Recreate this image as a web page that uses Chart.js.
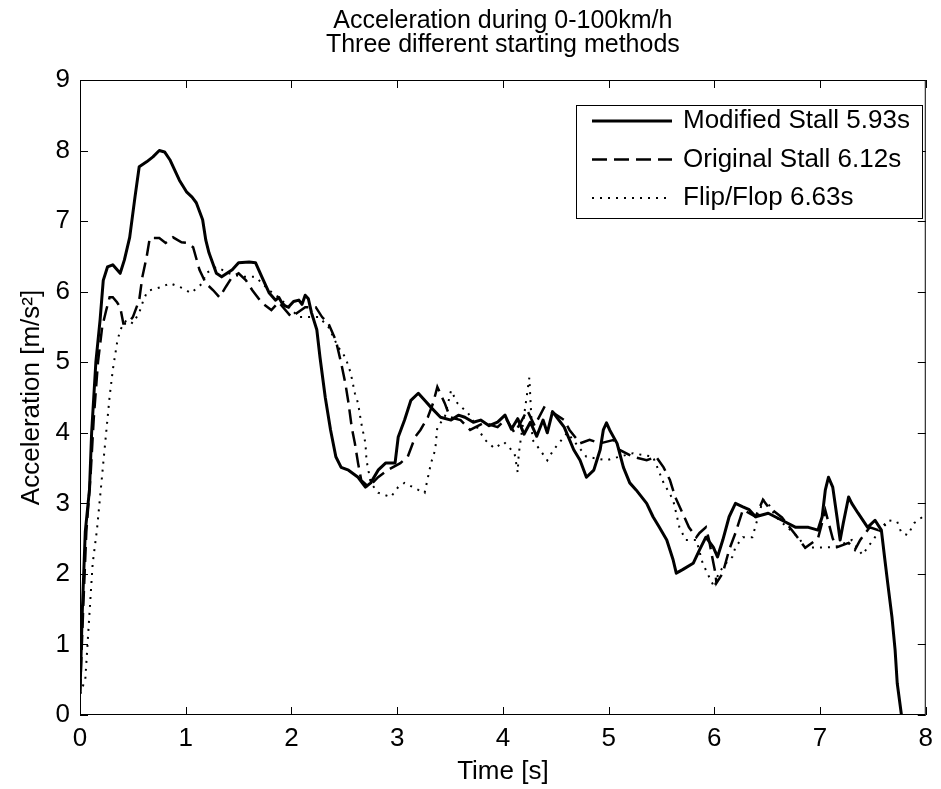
<!DOCTYPE html>
<html><head><meta charset="utf-8">
<script src="https://cdn.jsdelivr.net/npm/chart.js@4.4.0/dist/chart.umd.min.js"></script>
<style>html,body{margin:0;padding:0;background:#fff;}#wrap{width:941px;height:789px;}</style>
</head><body><div id="wrap"><canvas id="c" width="941" height="789"></canvas></div>
<script>
const titleLines = ['Acceleration during 0-100km/h', 'Three different starting methods'];
const xAxisTitle = 'Time [s]';
const yAxisTitle = 'Acceleration [m/s\u00B2]';
const seriesLabels = ['Modified Stall 5.93s', 'Original Stall 6.12s', 'Flip/Flop 6.63s'];
const xTickValues = [0, 1, 2, 3, 4, 5, 6, 7, 8];
const yTickValues = [0, 1, 2, 3, 4, 5, 6, 7, 8, 9];

const tModified = [0.00,0.02,0.05,0.09,0.11,0.15,0.19,0.22,0.26,0.31,0.38,0.42,0.47,0.52,0.56,0.63,0.69,0.75,0.80,0.85,0.94,1.01,1.06,1.10,1.16,1.19,1.22,1.29,1.34,1.44,1.50,1.60,1.66,1.72,1.79,1.85,1.88,1.91,1.94,1.97,2.02,2.07,2.10,2.13,2.16,2.19,2.24,2.27,2.32,2.37,2.42,2.47,2.54,2.63,2.70,2.75,2.82,2.89,2.98,3.01,3.07,3.13,3.20,3.26,3.32,3.41,3.51,3.58,3.64,3.72,3.79,3.87,3.95,4.02,4.08,4.14,4.20,4.26,4.32,4.38,4.42,4.47,4.51,4.58,4.67,4.73,4.79,4.86,4.92,4.95,4.98,5.01,5.08,5.14,5.20,5.26,5.36,5.42,5.48,5.55,5.61,5.64,5.70,5.80,5.86,5.92,5.99,6.03,6.08,6.14,6.20,6.27,6.33,6.39,6.51,6.64,6.77,6.89,6.98,7.02,7.05,7.08,7.12,7.16,7.19,7.22,7.27,7.30,7.36,7.45,7.52,7.58,7.61,7.64,7.68,7.71,7.73,7.77];
const aModified = [0.30,1.40,2.60,3.20,4.00,5.00,5.60,6.16,6.35,6.38,6.26,6.45,6.77,7.34,7.77,7.84,7.91,8.00,7.98,7.87,7.58,7.41,7.34,7.26,7.02,6.73,6.55,6.26,6.21,6.31,6.41,6.42,6.41,6.21,5.98,5.88,5.92,5.84,5.80,5.78,5.86,5.88,5.82,5.95,5.90,5.70,5.46,5.07,4.50,4.04,3.66,3.51,3.47,3.37,3.23,3.29,3.47,3.57,3.57,3.94,4.18,4.46,4.56,4.46,4.36,4.22,4.18,4.25,4.22,4.15,4.18,4.10,4.15,4.25,4.05,4.20,3.98,4.15,3.95,4.18,4.00,4.30,4.22,4.08,3.76,3.61,3.37,3.47,3.76,4.04,4.14,4.04,3.85,3.51,3.29,3.19,3.00,2.81,2.66,2.48,2.20,2.01,2.06,2.15,2.34,2.52,2.38,2.24,2.48,2.81,3.00,2.95,2.91,2.81,2.86,2.76,2.66,2.66,2.62,2.81,3.19,3.37,3.23,2.81,2.48,2.72,3.09,3.00,2.86,2.66,2.76,2.62,2.24,1.87,1.39,0.92,0.45,0.00];

const tOriginal = [0.00,0.03,0.06,0.10,0.13,0.17,0.21,0.25,0.28,0.31,0.35,0.38,0.41,0.45,0.50,0.56,0.59,0.63,0.66,0.75,0.81,0.88,0.96,1.02,1.07,1.13,1.19,1.26,1.32,1.38,1.44,1.50,1.57,1.63,1.72,1.81,1.88,2.00,2.13,2.23,2.29,2.35,2.42,2.47,2.51,2.54,2.57,2.60,2.63,2.66,2.73,2.82,2.91,3.03,3.10,3.17,3.22,3.29,3.34,3.38,3.45,3.50,3.60,3.69,3.82,3.95,4.03,4.11,4.17,4.23,4.30,4.39,4.48,4.58,4.63,4.73,4.82,4.92,5.05,5.10,5.23,5.36,5.45,5.52,5.58,5.63,5.70,5.76,5.83,5.86,5.92,5.95,5.98,6.01,6.02,6.08,6.14,6.20,6.27,6.33,6.39,6.46,6.51,6.64,6.77,6.86,6.98,7.05,7.12,7.16,7.27,7.33,7.38,7.47,7.55,7.62];
const aOriginal = [0.30,1.50,2.60,3.40,4.20,5.00,5.50,5.75,5.92,5.92,5.85,5.78,5.55,5.55,5.64,5.88,6.21,6.49,6.76,6.76,6.69,6.77,6.70,6.69,6.63,6.31,6.12,6.02,5.92,6.07,6.21,6.26,6.16,6.02,5.84,5.74,5.85,5.64,5.78,5.78,5.64,5.55,5.31,4.99,4.70,4.42,4.08,3.85,3.57,3.33,3.23,3.37,3.47,3.57,3.66,3.94,4.04,4.22,4.42,4.65,4.42,4.22,4.18,4.04,4.14,4.08,4.20,4.00,4.15,4.32,4.10,4.36,4.28,4.18,4.04,3.85,3.90,3.85,3.90,3.76,3.66,3.61,3.66,3.51,3.33,3.09,2.86,2.66,2.52,2.58,2.66,2.48,2.24,2.01,1.87,2.01,2.34,2.58,2.91,2.86,2.81,3.05,2.95,2.80,2.55,2.37,2.50,2.90,2.50,2.38,2.44,2.34,2.48,2.66,2.62,2.70];

const tFlipFlop = [0.00,0.05,0.09,0.12,0.16,0.19,0.22,0.25,0.28,0.31,0.35,0.38,0.44,0.50,0.56,0.60,0.63,0.66,0.78,0.85,0.97,1.05,1.16,1.19,1.29,1.41,1.53,1.66,1.79,1.88,2.07,2.26,2.35,2.44,2.51,2.56,2.60,2.63,2.66,2.70,2.71,2.75,2.82,2.94,3.01,3.07,3.20,3.26,3.32,3.36,3.38,3.45,3.51,3.57,3.64,3.67,3.83,3.92,4.01,4.11,4.14,4.15,4.25,4.28,4.35,4.42,4.48,4.61,4.79,4.98,5.10,5.23,5.42,5.52,5.61,5.67,5.73,5.83,5.89,5.95,6.00,6.04,6.11,6.17,6.20,6.27,6.36,6.46,6.51,6.58,6.80,6.86,7.14,7.30,7.40,7.52,7.64,7.73,7.77,7.83,7.89,7.99];
const aFlipFlop = [0.30,0.50,1.45,2.15,2.62,3.09,3.57,4.04,4.51,4.89,5.27,5.46,5.60,5.55,5.70,5.88,5.98,6.02,6.07,6.12,6.05,5.98,6.12,6.26,6.35,6.26,6.21,6.21,6.02,5.92,5.64,5.64,5.50,5.22,5.07,4.85,4.56,4.42,4.14,3.85,3.61,3.29,3.15,3.09,3.23,3.29,3.19,3.15,3.57,3.76,4.08,4.22,4.60,4.42,4.32,4.28,3.90,3.78,3.87,3.71,3.44,3.70,4.78,3.90,3.76,3.61,3.76,4.00,3.66,3.61,3.66,3.71,3.66,3.29,3.05,2.66,2.48,2.48,2.15,1.96,1.81,2.01,2.15,2.24,2.38,2.52,2.52,3.05,3.00,2.81,2.51,2.37,2.38,2.48,2.27,2.52,2.76,2.74,2.58,2.55,2.72,2.83];

const FONT = "'Liberation Sans', Arial, sans-serif";
const toPts = (xs, ys) => xs.map((x, i) => ({x: x, y: ys[i]}));

const frame = {
  id: 'frame',
  afterDatasetsDraw(chart) {
    const {ctx, chartArea: a, scales: {x, y}} = chart;
    ctx.save();
    ctx.strokeStyle = '#000';
    ctx.lineWidth = 1;
    ctx.setLineDash([]);
    ctx.strokeRect(a.left + 0.5, a.top + 0.5, a.right - a.left - 1, a.bottom - a.top - 1);
    const L = 8;
    ctx.beginPath();
    xTickValues.forEach(v => {
      const px = Math.round(x.getPixelForValue(v)) + 0.5;
      ctx.moveTo(px, a.bottom); ctx.lineTo(px, a.bottom - L);
      ctx.moveTo(px, a.top); ctx.lineTo(px, a.top + L);
    });
    yTickValues.forEach(v => {
      const py = Math.round(y.getPixelForValue(v)) + 0.5;
      ctx.moveTo(a.left, py); ctx.lineTo(a.left + L, py);
      ctx.moveTo(a.right, py); ctx.lineTo(a.right - L, py);
    });
    ctx.stroke();
    ctx.restore();
  },
  afterDraw(chart) {
    const {ctx, chartArea: a} = chart;
    ctx.save();
    ctx.fillStyle = '#000';
    ctx.font = '25px ' + FONT;
    ctx.textAlign = 'center';
    ctx.textBaseline = 'middle';
    const cx = (a.left + a.right) / 2;
    ctx.fillText(titleLines[0], cx, 21);
    ctx.fillText(titleLines[1], cx, 45);
    // legend
    ctx.font = '26px ' + FONT;
    const bx = 576, by = 105, bw = 346, bh = 113;
    ctx.fillStyle = '#fff';
    ctx.fillRect(bx, by, bw, bh);
    ctx.strokeStyle = '#000';
    ctx.lineWidth = 1;
    ctx.strokeRect(bx + 0.5, by + 0.5, bw, bh);
    const rows = [121, 159.5, 198];
    chart.data.datasets.forEach((ds, i) => {
      const ry = rows[i];
      ctx.beginPath();
      ctx.lineWidth = ds.borderWidth;
      ctx.setLineDash(ds.borderDash || []);
      ctx.strokeStyle = ds.borderColor;
      ctx.moveTo(592, ry); ctx.lineTo(672, ry);
      ctx.stroke();
      ctx.setLineDash([]);
      ctx.fillStyle = '#000';
      ctx.textAlign = 'left';
      ctx.textBaseline = 'middle';
      ctx.fillText(ds.label, 683, ry);
    });
    ctx.restore();
  }
};

new Chart(document.getElementById('c'), {
  type: 'scatter',
  data: {
    datasets: [
      {label: seriesLabels[0], data: toPts(tModified, aModified), showLine: true, borderColor: '#000', borderWidth: 3, pointRadius: 0, tension: 0, borderJoinStyle: 'round'},
      {label: seriesLabels[1], data: toPts(tOriginal, aOriginal), showLine: true, borderColor: '#000', borderWidth: 2.5, borderDash: [15, 7], pointRadius: 0, tension: 0},
      {label: seriesLabels[2], data: toPts(tFlipFlop, aFlipFlop), showLine: true, borderColor: '#000', borderWidth: 2, borderDash: [2, 6], pointRadius: 0, tension: 0}
    ]
  },
  options: {
    responsive: false,
    devicePixelRatio: 1,
    animation: false,
    layout: {padding: {top: 80, right: 9, left: 0, bottom: 0}},
    plugins: {legend: {display: false}, title: {display: false}, tooltip: {enabled: false}},
    scales: {
      x: {
        type: 'linear', min: 0, max: 8,
        afterFit: s => { s.height = 74; },
        afterBuildTicks: s => { s.ticks = xTickValues.map(v => ({value: v})); },
        grid: {display: false, drawTicks: false, tickLength: 0},
        border: {display: false},
        ticks: {color: '#000', font: {family: FONT, size: 26}, padding: 8, maxRotation: 0},
        title: {display: true, text: xAxisTitle, color: '#000', font: {family: FONT, size: 26, lineHeight: 1}, padding: {top: 0, bottom: 4}}
      },
      y: {
        type: 'linear', min: 0, max: 9,
        afterFit: s => { s.width = 80; },
        afterBuildTicks: s => { s.ticks = yTickValues.map(v => ({value: v})); },
        grid: {display: false, drawTicks: false, tickLength: 0},
        border: {display: false},
        ticks: {color: '#000', font: {family: FONT, size: 26}, padding: 10},
        title: {display: true, text: yAxisTitle, color: '#000', font: {family: FONT, size: 26, lineHeight: 1}, padding: {top: 19, bottom: 0}}
      }
    }
  },
  plugins: [frame]
});
</script>
</body></html>
